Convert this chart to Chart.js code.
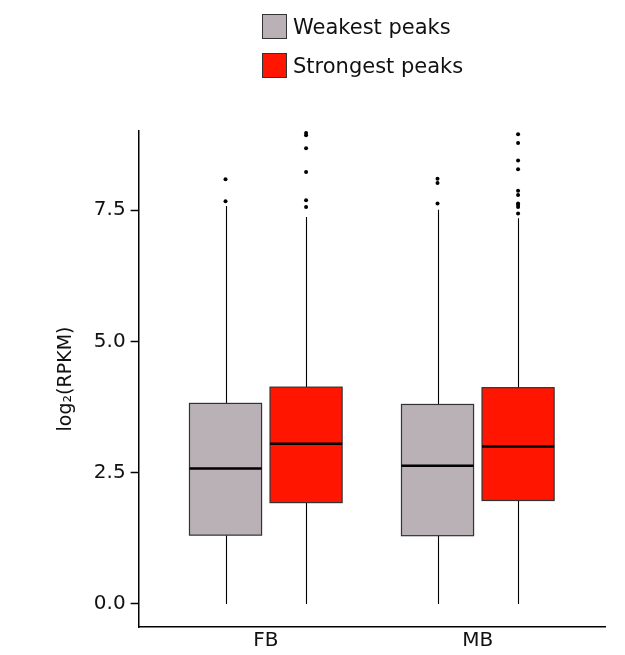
<!DOCTYPE html>
<html>
<head>
<meta charset="utf-8">
<script src="https://cdn.jsdelivr.net/npm/chart.js@4/dist/chart.umd.min.js"></script>
<style>
	body { margin: 0; background: #fff; }
	#wrap { position: relative; width: 625px; height: 655px; }
	#legend { position: absolute; left: 262px; top: 14px; font-family: 'DejaVu Sans', sans-serif; font-size: 21px; color: #111; }
	#legend .item { display: flex; align-items: center; height: 25px; margin-bottom: 14px; }
	#legend .swatch { width: 25px; height: 25px; box-sizing: border-box; border: 1.5px solid #333; margin-right: 6px; }
</style>
</head>
<body>
<div id="wrap">
	<div id="legend"></div>
	<canvas id="peaks-chart" width="625" height="655"></canvas>
</div>
<script>
(function() {
	'use strict';

	// Regions and y ticks.
	const groups = ['FB', 'MB'];
	const yTicks = [0, 2.5, 5, 7.5];

	// Weakest peaks: five-number summaries per region.
	const weakestLow = [0, 0];
	const weakestQ1 = [1.31, 1.30];
	const weakestMedian = [2.58, 2.63];
	const weakestQ3 = [3.82, 3.80];
	const weakestHigh = [7.58, 7.51];
	const weakestOutliers = [[7.67, 8.09], [7.63, 8.02, 8.10]];

	// Strongest peaks: five-number summaries per region.
	const strongestLow = [0, 0];
	const strongestQ1 = [1.93, 1.97];
	const strongestMedian = [3.05, 3.00];
	const strongestQ3 = [4.13, 4.12];
	const strongestHigh = [7.37, 7.35];
	const strongestOutliers = [
		[7.56, 7.69, 8.23, 8.68, 8.93, 8.97],
		[7.44, 7.56, 7.60, 7.63, 7.79, 7.87, 8.28, 8.45, 8.78, 8.95]
	];

	const font = "'DejaVu Sans', sans-serif";
	const dodge = 0.19;
	const boxWidth = 0.34;

	const series = [
		{
			label: 'Weakest peaks', fill: '#b9b1b5', offset: -dodge,
			low: weakestLow, q1: weakestQ1, median: weakestMedian, q3: weakestQ3, high: weakestHigh,
			outliers: weakestOutliers
		},
		{
			label: 'Strongest peaks', fill: '#ff1500', offset: dodge,
			low: strongestLow, q1: strongestQ1, median: strongestMedian, q3: strongestQ3, high: strongestHigh,
			outliers: strongestOutliers
		}
	];

	// HTML legend, one row per series.
	const legend = document.getElementById('legend');
	series.forEach(function(s) {
		const row = document.createElement('div');
		row.className = 'item';
		const sw = document.createElement('span');
		sw.className = 'swatch';
		sw.style.background = s.fill;
		row.appendChild(sw);
		row.appendChild(document.createTextNode(s.label));
		legend.appendChild(row);
	});

	// Boxes, whiskers and medians, drawn under the outlier points.
	const boxPlotPlugin = {
		id: 'boxPlot',
		beforeDatasetsDraw: function(chart) {
			const ctx = chart.ctx;
			const x = chart.scales.x;
			const y = chart.scales.y;
			ctx.save();
			series.forEach(function(s) {
				groups.forEach(function(g, i) {
					const cx = Math.round(x.getPixelForValue(i + 1 + s.offset)) + 0.5;
					const left = x.getPixelForValue(i + 1 + s.offset - boxWidth / 2);
					const right = x.getPixelForValue(i + 1 + s.offset + boxWidth / 2);
					const yLow = y.getPixelForValue(s.low[i]);
					const yQ1 = y.getPixelForValue(s.q1[i]);
					const yMed = y.getPixelForValue(s.median[i]);
					const yQ3 = y.getPixelForValue(s.q3[i]);
					const yHigh = y.getPixelForValue(s.high[i]);

					// Whiskers.
					ctx.strokeStyle = '#000';
					ctx.lineWidth = 1.1;
					ctx.beginPath();
					ctx.moveTo(cx, yHigh);
					ctx.lineTo(cx, yQ3);
					ctx.moveTo(cx, yQ1);
					ctx.lineTo(cx, yLow);
					ctx.stroke();

					// Box.
					ctx.fillStyle = s.fill;
					ctx.fillRect(left, yQ3, right - left, yQ1 - yQ3);
					ctx.strokeStyle = '#333';
					ctx.lineWidth = 1.2;
					ctx.strokeRect(left, yQ3, right - left, yQ1 - yQ3);

					// Median.
					ctx.strokeStyle = '#000';
					ctx.lineWidth = 2.5;
					ctx.beginPath();
					ctx.moveTo(left, yMed);
					ctx.lineTo(right, yMed);
					ctx.stroke();
				});
			});
			ctx.restore();
		}
	};

	const datasets = series.map(function(s) {
		const points = [];
		s.outliers.forEach(function(vals, i) {
			vals.forEach(function(v) {
				points.push({ x: i + 1 + s.offset, y: v });
			});
		});
		return {
			label: s.label,
			data: points,
			pointRadius: 2,
			pointBackgroundColor: '#000',
			pointBorderWidth: 0
		};
	});

	new Chart(document.getElementById('peaks-chart'), {
		type: 'scatter',
		data: { datasets: datasets },
		plugins: [boxPlotPlugin],
		options: {
			responsive: false,
			animation: false,
			layout: {
				padding: { left: 55, right: 20, top: 131, bottom: 0 }
			},
			plugins: {
				legend: { display: false },
				tooltip: { enabled: false }
			},
			scales: {
				x: {
					type: 'linear',
					min: 0.4,
					max: 2.6,
					afterBuildTicks: function(scale) {
						scale.ticks = groups.map(function(g, i) { return { value: i + 1 }; });
					},
					grid: { drawOnChartArea: false, drawTicks: false },
					border: { display: true, color: '#000', width: 1.5 },
					ticks: {
						padding: 2,
						color: '#111',
						font: { family: font, size: 20 },
						callback: function(value) { return groups[value - 1]; }
					}
				},
				y: {
					min: -0.44,
					max: 9.01,
					afterBuildTicks: function(scale) {
						scale.ticks = yTicks.map(function(v) { return { value: v }; });
					},
					title: {
						display: true,
						text: 'log₂(RPKM)',
						color: '#111',
						font: { family: font, size: 19 },
						padding: { top: 0, bottom: 11 }
					},
					grid: { drawOnChartArea: false, drawTicks: true, tickLength: 8, color: '#000', tickWidth: 1.5 },
					border: { display: true, color: '#000', width: 1.5 },
					ticks: {
						padding: 5,
						color: '#111',
						font: { family: font, size: 20 },
						callback: function(value) { return value.toFixed(1); }
					}
				}
			}
		}
	});
})();
</script>
</body>
</html>
